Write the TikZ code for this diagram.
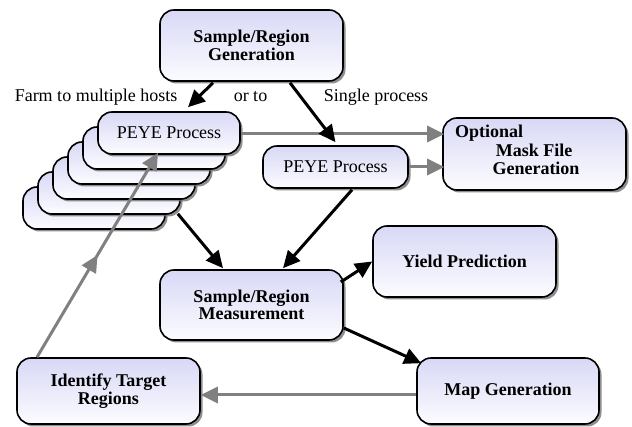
\documentclass[tikz,border=0pt]{standalone}
\usepackage{fontspec}
\setmainfont{Liberation Serif}
\usetikzlibrary{calc,arrows.meta,shadows,decorations.markings}

\definecolor{boxtop}{RGB}{216,216,246}
\definecolor{boxbot}{RGB}{252,252,255}
\definecolor{flowgray}{RGB}{128,128,128}

\tikzset{
  procbox/.style={draw=black, line width=1.6pt, rounded corners=14pt,
    top color=boxtop, bottom color=boxbot, inner sep=0pt, align=center,
    drop shadow={shadow xshift=2.5pt, shadow yshift=-2.5pt, fill=black!55, opacity=0.8}},
  boldtext/.style={font=\fontsize{18}{18}\selectfont\bfseries},
  plaintext/.style={font=\fontsize{18}{18}\selectfont},
  flowhead/.style={-{Triangle[length=17pt,width=16pt]}},
  blackflow/.style={draw=black, line width=3pt, flowhead},
  grayflow/.style={draw=flowgray, line width=3pt, flowhead},
  midhead/.style={postaction={decorate, decoration={markings,
    mark=at position 0.5 with {\arrow[flowgray]{Triangle[length=17pt,width=16pt]}}}}}
}

\begin{document}
\begin{tikzpicture}[x=1pt, y=-1pt]
\useasboundingbox (0,0) rectangle (632,427);

% top generation step
\node[procbox, boldtext, minimum width=183pt, minimum height=71pt] (gen) at (251.5,45.5)
  {Sample/Region\\Generation};

% stack of farmed processes, back to front
\foreach \k in {5,4,3,2,1}{
  \node[procbox, plaintext, minimum width=142pt, minimum height=42pt] (p\k)
    at ({169-15*\k},{133+15*\k}) {};
}
\node[procbox, plaintext, minimum width=142pt, minimum height=42pt] (p0) at (169,133) {PEYE Process};

% single process
\node[procbox, plaintext, minimum width=145pt, minimum height=42pt] (s1) at (335.5,167) {PEYE Process};

% optional mask step
\node[procbox, minimum width=183pt, minimum height=72pt] (mask) at (534.5,154) {};
\node[boldtext, anchor=base west, inner sep=0pt] (maskA) at (455,138) {Optional};
\node[boldtext, anchor=base, inner sep=0pt] (maskB) at (534,157) {Mask File};
\node[boldtext, anchor=base, inner sep=0pt] (maskC) at (536,175) {Generation};

% measurement and results
\node[procbox, font=\fontsize{18}{16.5}\selectfont\bfseries, minimum width=183pt, minimum height=70pt] (meas) at (251.5,305)
  {Sample/Region\\Measurement};
\node[procbox, boldtext, minimum width=183pt, minimum height=71pt] (yield) at (464.5,261.5) {Yield Prediction};
\node[procbox, boldtext, minimum width=182pt, minimum height=66pt] (map) at (508,391) {Map Generation};
\node[procbox, font=\fontsize{18}{14}\selectfont\bfseries, minimum width=183pt, minimum height=66pt] (ident) at (108.5,391)
  {Identify Target\\Regions};

% branch labels
\node[plaintext, anchor=base, inner sep=0pt] (farm) at (96,102) {Farm to multiple hosts};
\node[plaintext, anchor=base, inner sep=0pt] (orto) at (250.5,102) {or to};
\node[plaintext, anchor=base, inner sep=0pt] (single) at (376,102) {Single process};

% gray flows
\draw[grayflow] ($(p0.east)+(0,1)$) -- ($(mask.west)+(2,-20)$);
\draw[grayflow] (s1.east) -- ($(mask.west)+(2,13)$);
\draw[grayflow] ($(map.west)+(0,4)$) -- ($(ident.east)+(0,4)$);
\draw[grayflow, midhead] ($(ident.north)+(-71.5,0)$) -- ($(p0.south)+(-11,-2)$);

% black flows
\draw[blackflow] ($(gen.south)+(-38.5,1)$) -- ($(p0.north)+(19,-4)$);
\draw[blackflow] ($(gen.south)+(38.5,1)$) -- ($(s1.north)+(0,-3)$);
\draw[blackflow] ($(p4.south east)+(-3,-1)$) -- ($(meas.north)+(-28.5,-1)$);
\draw[blackflow] ($(s1.south)+(16.5,1)$) -- ($(meas.north)+(31.5,-1)$);
\draw[blackflow] ($(meas.east)+(-3,-23)$) -- (yield.west);
\draw[blackflow] ($(meas.east)+(0,23)$) -- ($(map.north west)+(5,6)$);
\end{tikzpicture}
\end{document}
